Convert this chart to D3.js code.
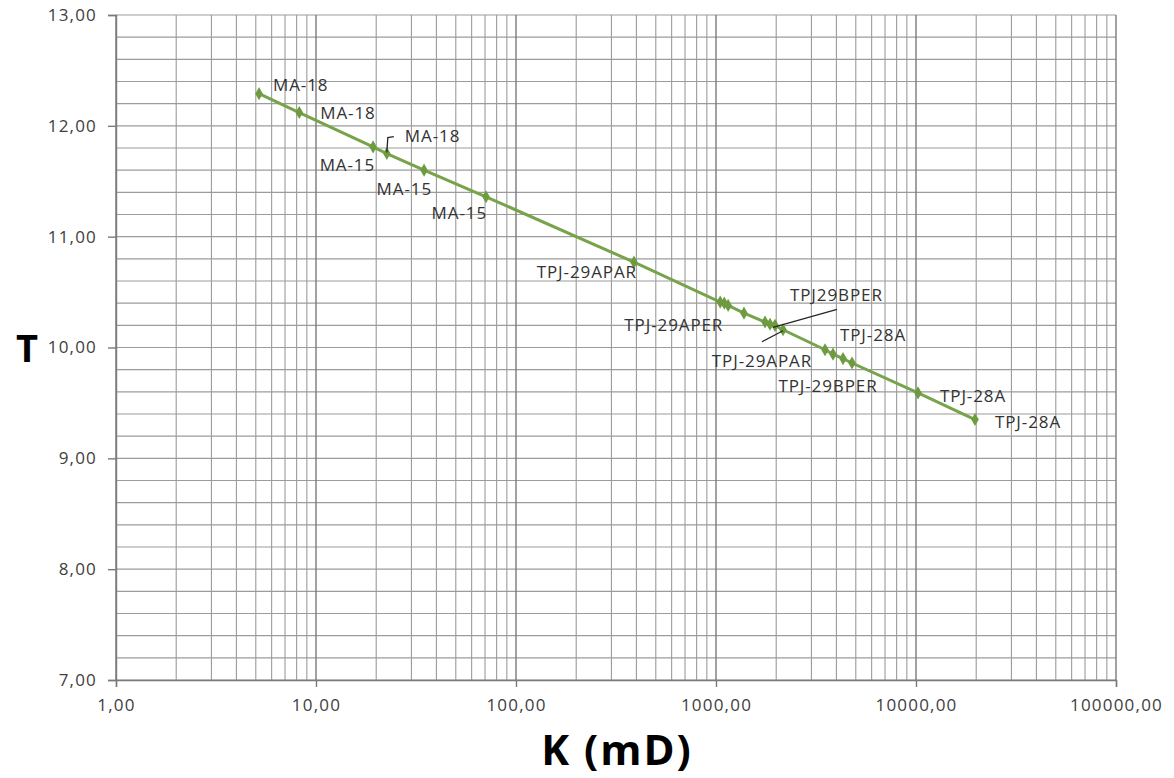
<!DOCTYPE html>
<html lang="en">
<head>
<meta charset="UTF-8"/>
<title>T vs K</title>
<script src="https://cdn.jsdelivr.net/npm/d3@7"></script>
<style>
  body { margin: 0; background: #fff; }
  text { font-family: "Open Sans", sans-serif; }
</style>
</head>
<body>
<script>
// permeability K (mD) and T for each sample
var kValues = [5.19, 8.25, 19.3, 22.6, 34.7, 70.8, 389, 1050, 1100, 1150, 1380,
  1758, 1862, 1972, 2163, 3508, 3846, 4315, 4786, 10233, 19724];
var tValues = [12.29, 12.12, 11.81, 11.75, 11.60, 11.36, 10.77, 10.41, 10.40, 10.38, 10.31,
  10.23, 10.21, 10.20, 10.16, 9.98, 9.94, 9.90, 9.86, 9.59, 9.35];

// sample names and the point each one belongs to
var labelText = ["MA-18", "MA-18", "MA-15", "MA-18", "MA-15", "MA-15", "TPJ-29APAR",
  "TPJ-29APER", "TPJ29BPER", "TPJ-29APAR", "TPJ-28A", "TPJ-29BPER", "TPJ-28A", "TPJ-28A"];
var labelPoint = [0, 1, 2, 3, 4, 5, 6, 8, 13, 14, 18, 17, 19, 20];

var xTickValues = [1, 10, 100, 1000, 10000, 100000];
var yTickValues = [7, 8, 9, 10, 11, 12, 13];

var w = 1174, h = 778;
var plotLeft = 116, plotRight = 1116, plotTop = 15, plotBottom = 680;

var svg = d3.select("body").append("svg")
  .attr("width", w)
  .attr("height", h);

var xScale = d3.scaleLog().domain([1, 100000]).range([plotLeft, plotRight]);
var yScale = d3.scaleLinear().domain([7, 13]).range([plotBottom, plotTop]);

var fmt = function(v) { return d3.format(".2f")(v).replace(".", ","); };

// minor grid
var minorX = [];
for (var e = 0; e < 5; e++) {
  for (var m = 2; m <= 9; m++) minorX.push(m * Math.pow(10, e));
}
var minorY = d3.range(7, 13.001, 0.2);

var grid = svg.append("g");
grid.selectAll(".hy").data(minorY).enter().append("line")
  .attr("x1", plotLeft).attr("x2", plotRight)
  .attr("y1", function(d) { return yScale(d); })
  .attr("y2", function(d) { return yScale(d); })
  .attr("stroke", "#9c9c9c").attr("stroke-width", 1.1);
grid.selectAll(".vx").data(minorX).enter().append("line")
  .attr("y1", plotTop).attr("y2", plotBottom)
  .attr("x1", function(d) { return xScale(d); })
  .attr("x2", function(d) { return xScale(d); })
  .attr("stroke", "#9c9c9c").attr("stroke-width", 1.1);
grid.selectAll(".mx").data(xTickValues).enter().append("line")
  .attr("y1", plotTop).attr("y2", plotBottom)
  .attr("x1", function(d) { return xScale(d); })
  .attr("x2", function(d) { return xScale(d); })
  .attr("stroke", "#7a7a7a").attr("stroke-width", 1.4);

// axes
var xAxis = d3.axisBottom(xScale).tickValues(xTickValues).tickFormat(fmt)
  .tickSize(7).tickPadding(9);
var yAxis = d3.axisLeft(yScale).tickValues(yTickValues).tickFormat(fmt)
  .tickSize(8).tickPadding(11);

var gx = svg.append("g").attr("transform", "translate(0," + plotBottom + ")").call(xAxis);
var gy = svg.append("g").attr("transform", "translate(" + plotLeft + ",0)").call(yAxis);
[gx, gy].forEach(function(g) {
  g.select(".domain").attr("stroke", "#7a7a7a").attr("stroke-width", 1.4);
  g.selectAll(".tick line").attr("stroke", "#7a7a7a").attr("stroke-width", 1.4);
  g.selectAll(".tick text")
    .attr("fill", "#404040")
    .style("font-family", "'Open Sans', sans-serif")
    .style("font-size", "17px")
    .style("letter-spacing", "1.2px");
});
gx.selectAll(".tick text").attr("dy", "0.9em");

// series
var points = kValues.map(function(k, i) { return [k, tValues[i]]; });
var line = d3.line()
  .x(function(d) { return xScale(d[0]); })
  .y(function(d) { return yScale(d[1]); });

svg.append("path")
  .datum(points)
  .attr("d", line)
  .attr("fill", "none")
  .attr("stroke", "#77a34a")
  .attr("stroke-width", 3);

svg.selectAll(".pt").data(points).enter().append("path")
  .attr("d", d3.symbol().type(d3.symbolDiamond).size(50))
  .attr("transform", function(d) { return "translate(" + xScale(d[0]) + "," + yScale(d[1]) + ")"; })
  .attr("fill", "#6f9b40");

// label placement: anchor, dx, dy, optional leader path relative to the point
var labelLayout = [
  ["start", 14, -9], ["start", 21, 0], ["end", 2, 18],
  ["start", 18, -18, [[0, -1], [1, -16], [7, -17]]],
  ["end", 8, 18], ["end", 1, 16], ["end", 3, 9], ["end", -1, 21],
  ["start", 15, -31, [[-2, 2], [62, -16]]],
  ["middle", -21, 31, [[0, 1], [-21, 12]]],
  ["start", -12, -29], ["middle", -15, 27], ["start", 22, 3], ["start", 20, 2]
];

labelText.forEach(function(t, i) {
  var p = points[labelPoint[i]];
  var px = xScale(p[0]), py = yScale(p[1]);
  var lay = labelLayout[i];
  if (lay[3]) {
    svg.append("path")
      .attr("d", d3.line()(lay[3].map(function(o) { return [px + o[0], py + o[1]]; })))
      .attr("fill", "none")
      .attr("stroke", "#262626")
      .attr("stroke-width", 1.3);
  }
  svg.append("text")
    .attr("x", px + lay[1])
    .attr("y", py + lay[2])
    .attr("text-anchor", lay[0])
    .attr("dominant-baseline", "central")
    .attr("fill", "#333")
    .style("font-size", "17px")
    .style("letter-spacing", "0.9px")
    .text(t);
});

// axis titles
svg.append("text")
  .attr("x", 27).attr("y", 347)
  .attr("text-anchor", "middle")
  .attr("dominant-baseline", "central")
  .style("font-size", "38px")
  .style("font-weight", "bold")
  .attr("fill", "#000")
  .text("T");

svg.append("text")
  .attr("x", 617).attr("y", 748)
  .attr("text-anchor", "middle")
  .attr("dominant-baseline", "central")
  .style("font-size", "42px")
  .style("font-weight", "bold")
  .style("letter-spacing", "2px")
  .attr("fill", "#000")
  .text("K (mD)");
</script>
</body>
</html>
